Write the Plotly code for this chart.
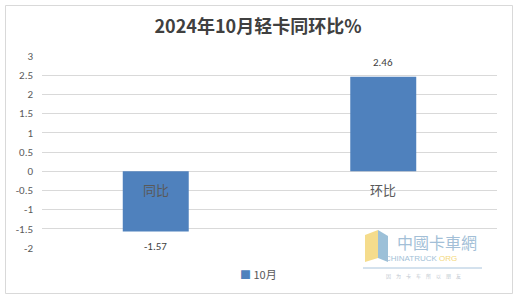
import plotly.graph_objects as go

categories = ["同比", "环比"]
values = [-1.57, 2.46]
value_labels = ["-1.57", "2.46"]
series_name = "10月"
title = "2024年10月轻卡同环比%"
tick_vals = [-2, -1.5, -1, -0.5, 0, 0.5, 1, 1.5, 2, 2.5, 3]
tick_text = ["-2", "-1.5", "-1", "-0.5", "0", "0.5", "1", "1.5", "2", "2.5", "3"]

W, H = 519, 301
L, R, T, B = 42, 22, 56, 53
pw, ph = W - L - R, H - T - B

def px_x(x):
    return (x - L) / pw

def px_y(y):
    return (H - B - y) / ph

BAR = "#4f81bd"

fig = go.Figure()
fig.add_trace(go.Bar(
    x=categories, y=values, name=series_name,
    marker=dict(color=BAR, line=dict(width=0)),
    width=0.29,
    showlegend=False,
))

annotations = []
for c, v, t in zip(categories, values, value_labels):
    annotations.append(dict(
        x=c, y=0, xref="x", yref="y", text=c, showarrow=False,
        xanchor="center", yanchor="top", yshift=-7,
        font=dict(size=13, color="#595959", family="Noto Sans CJK SC"),
    ))
    annotations.append(dict(
        x=c, y=v, xref="x", yref="y", text=t, showarrow=False,
        xanchor="center", yanchor="bottom" if v >= 0 else "top",
        yshift=6 if v >= 0 else -7,
        font=dict(size=11, color="#404040", family="Calibri, Liberation Sans, Arial"),
    ))

# legend (drawn as text to match spacing)
annotations.append(dict(
    x=px_x(258), y=px_y(274), xref="paper", yref="paper", showarrow=False,
    xanchor="center", yanchor="middle",
    text="<span style='color:%s'>■</span> %s" % (BAR, series_name),
    font=dict(size=11, color="#595959", family="Noto Sans CJK SC"),
))

# watermark approximation
annotations += [
    dict(x=px_x(437), y=px_y(242), xref="paper", yref="paper", text="中國卡車網",
         xanchor="center", yanchor="middle",
         showarrow=False, font=dict(size=16, color="#a3bfd7", family="Noto Sans CJK TC")),
    dict(x=px_x(421), y=px_y(258), xref="paper", yref="paper",
         text="CHINATRUCK <span style='color:#f3d77a'>ORG</span>",
         xanchor="center", yanchor="middle",
         showarrow=False, font=dict(size=8, color="#a3bfd7", family="Liberation Sans")),
    dict(x=px_x(423), y=px_y(276), xref="paper", yref="paper",
         text="因　为　卡　车　所　以　朋　友",
         xanchor="center", yanchor="middle",
         showarrow=False, font=dict(size=5, color="#c0c8d0", family="Noto Sans CJK SC")),
]

shapes = [
    dict(type="rect", xref="paper", yref="paper",
         x0=px_x(5.5), x1=px_x(512.5), y0=px_y(293.5), y1=px_y(5.5),
         line=dict(color="#d9d9d9", width=1), fillcolor="rgba(0,0,0,0)", layer="below"),
    dict(type="line", xref="paper", yref="paper",
         x0=px_x(363), x1=px_x(482), y0=px_y(268), y1=px_y(268),
         line=dict(color="#a9c4dc", width=1)),
    dict(type="path", xref="paper", yref="paper",
         path="M {} {} L {} {} L {} {} L {} {} Z".format(
             px_x(365), px_y(235), px_x(378), px_y(230), px_x(378), px_y(258), px_x(365), px_y(262)),
         fillcolor="#f5dc8c", line=dict(width=0)),
    dict(type="path", xref="paper", yref="paper",
         path="M {} {} L {} {} L {} {} L {} {} Z".format(
             px_x(378), px_y(230), px_x(388), px_y(236), px_x(388), px_y(262), px_x(378), px_y(258)),
         fillcolor="#9cc0d8", line=dict(width=0)),
]

fig.update_layout(
    width=W, height=H,
    margin=dict(l=L, r=R, t=T, b=B),
    paper_bgcolor="white", plot_bgcolor="white",
    title=dict(text="<b>" + title + "</b>", xref="container", x=258 / W, xanchor="center",
               yref="container", y=1 - 27 / H, yanchor="middle",
               font=dict(size=18, color="#404040", family="Noto Sans CJK SC")),
    xaxis=dict(showticklabels=False, showgrid=False, zeroline=False, showline=False,
               ticks="", range=[-0.5, 1.5]),
    yaxis=dict(range=[-2, 3], tickvals=tick_vals, ticktext=tick_text,
               showgrid=True, gridcolor="#d9d9d9", gridwidth=1,
               zeroline=True, zerolinecolor="#d9d9d9", zerolinewidth=1,
               showline=False, ticks="", ticklabelstandoff=8,
               tickfont=dict(size=11, color="#595959", family="Calibri, Liberation Sans, Arial")),
    showlegend=False,
    annotations=annotations,
    shapes=shapes,
)

fig.write_html("out.html")
